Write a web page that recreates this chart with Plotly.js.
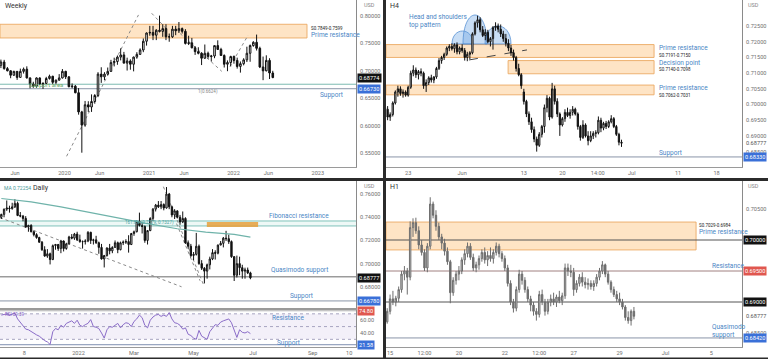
<!DOCTYPE html>
<html><head><meta charset="utf-8">
<script src="https://cdn.plot.ly/plotly-3.0.1.min.js"></script>
<style>html,body{margin:0;padding:0;background:#fff;}#chart{width:768px;height:359px;}</style>
</head><body><div id="chart"></div>
<script>
// ===== Weekly panel (two-week candles) =====
const wkOpen = [.7100,.7160,.7040,.7000,.6920,.6990,.6880,.6990,.7030,.6870,
.6760,.6720,.6870,.6760,.6770,.6860,.6900,.6790,.6830,.6870,
.6990,.6890,.6710,.6720,.6600,.6250,.6010,.6380,.6340,.6440,
.6550,.6940,.6890,.6940,.6990,.7150,.7170,.7250,.7290,.7140,
.7180,.7120,.7250,.7300,.7380,.7540,.7690,.7700,.7650,.7740,
.7720,.7770,.7620,.7620,.7760,.7730,.7770,.7720,.7500,.7510,
.7420,.7350,.7320,.7230,.7320,.7260,.7270,.7460,.7390,.7280,
.7120,.7150,.7260,.7190,.7080,.7130,.7200,.7320,.7460,.7520,
.7410,.7070,.7000,.7190,.6960];
const wkHigh = [.7205,.7200,.7070,.7010,.7000,.6995,.7040,.7060,.7082,.6880,
.6800,.6880,.6880,.6790,.6890,.6930,.6910,.6840,.6940,.7032,
.7000,.6900,.6770,.6740,.6685,.6270,.6450,.6445,.6570,.6575,
.6975,.7065,.6975,.7060,.7200,.7240,.7280,.7410,.7345,.7240,
.7210,.7260,.7340,.7410,.7590,.7700,.7820,.7820,.7760,.8007,
.7850,.7850,.7680,.7820,.7820,.7890,.7790,.7760,.7640,.7600,
.7450,.7430,.7340,.7480,.7350,.7290,.7460,.7556,.7420,.7300,
.7190,.7275,.7280,.7240,.7170,.7230,.7440,.7480,.7540,.7661,
.7440,.7260,.7283,.7230,.7000];
const wkLow = [.7050,.7020,.6990,.6865,.6905,.6835,.6870,.6950,.6860,.6680,
.6690,.6690,.6740,.6670,.6760,.6840,.6760,.6760,.6820,.6860,
.6850,.6700,.6680,.6590,.6200,.5506,.5980,.6250,.6250,.6400,
.6520,.6780,.6830,.6920,.6980,.7080,.7110,.7190,.7140,.7005,
.7020,.6990,.7220,.7290,.7340,.7460,.7640,.7560,.7560,.7700,
.7620,.7560,.7530,.7600,.7650,.7690,.7680,.7480,.7470,.7410,
.7290,.7300,.7105,.7220,.7220,.7170,.7230,.7380,.7270,.7060,
.6993,.7080,.7130,.7040,.6967,.7100,.7160,.7165,.7440,.7370,
.7050,.6829,.6990,.6850,.6865];
const wkClose = [.7160,.7040,.7000,.6920,.6990,.6880,.6990,.7030,.6870,.6760,
.6720,.6870,.6760,.6770,.6860,.6900,.6790,.6830,.6870,.6990,
.6890,.6710,.6720,.6600,.6250,.6010,.6380,.6340,.6440,.6550,
.6940,.6890,.6940,.6990,.7150,.7170,.7250,.7290,.7140,.7180,
.7120,.7250,.7300,.7380,.7540,.7690,.7700,.7650,.7740,.7720,
.7770,.7620,.7620,.7760,.7730,.7770,.7720,.7500,.7510,.7420,
.7350,.7320,.7230,.7320,.7260,.7270,.7460,.7390,.7280,.7120,
.7150,.7260,.7190,.7080,.7130,.7200,.7320,.7460,.7520,.7410,
.7070,.7000,.7190,.6960,.6877];
const wkTickVals = ["2019-06-01","2020-01-01","2020-06-01","2021-01-01","2021-06-01","2022-01-01","2022-06-01","2023-01-01"];
const wkTickText = ["Jun","2020","Jun","2021","Jun","2022","Jun","2023"];

// ===== H4 panel (8-hour candles) =====
const h4Open = [.6990,.6985,.6960,.6968,.7005,.7040,.7050,.7035,.7040,.7030,
.7055,.7100,.7110,.7095,.7105,.7100,.7060,.7070,.7085,.7078,
.7088,.7115,.7140,.7150,.7160,.7180,.7185,.7178,.7190,.7168,
.7180,.7172,.7150,.7160,.7165,.7225,.7260,.7270,.7238,.7220,
.7230,.7200,.7210,.7245,.7250,.7240,.7225,.7210,.7195,.7180,
.7165,.7150,.7115,.7095,.7040,.7010,.6970,.6945,.6920,.6890,
.6870,.6905,.6930,.6990,.7020,.6960,.7050,.7010,.6970,.6935,
.6955,.6975,.6965,.6975,.6985,.6970,.6930,.6895,.6935,.6900,
.6885,.6900,.6908,.6910,.6950,.6925,.6940,.6930,.6945,.6955,
.6930,.6905,.6880];
const h4High = [.7010,.6995,.6975,.7010,.7045,.7060,.7058,.7048,.7045,.7060,
.7108,.7125,.7118,.7110,.7115,.7105,.7080,.7090,.7095,.7090,
.7120,.7148,.7155,.7165,.7185,.7192,.7195,.7195,.7198,.7185,
.7192,.7180,.7168,.7170,.7230,.7265,.7283,.7278,.7250,.7240,
.7238,.7215,.7250,.7262,.7258,.7255,.7235,.7225,.7208,.7190,
.7175,.7155,.7130,.7100,.7050,.7015,.6978,.6958,.6930,.6898,
.6912,.6935,.7000,.7030,.7025,.7069,.7060,.7020,.6975,.6960,
.6985,.6990,.6985,.6995,.6990,.6975,.6935,.6950,.6940,.6915,
.6915,.6915,.6918,.6962,.6958,.6945,.6948,.6950,.6966,.6960,
.6935,.6910,.6888];
const h4Low = [.6975,.6950,.6948,.6962,.7000,.7025,.7028,.7022,.7025,.7025,
.7050,.7090,.7085,.7080,.7090,.7050,.7040,.7062,.7070,.7068,
.7082,.7110,.7130,.7142,.7155,.7170,.7172,.7165,.7160,.7160,
.7165,.7140,.7138,.7145,.7160,.7220,.7245,.7230,.7215,.7205,
.7195,.7185,.7175,.7235,.7230,.7215,.7200,.7185,.7170,.7155,
.7140,.7105,.7090,.7050,.7000,.6960,.6935,.6910,.6880,.6850,
.6865,.6895,.6910,.6975,.6950,.6955,.7000,.6960,.6900,.6930,
.6945,.6960,.6955,.6965,.6965,.6920,.6885,.6890,.6895,.6870,
.6880,.6890,.6895,.6905,.6912,.6918,.6922,.6925,.6940,.6925,
.6900,.6870,.6865];
const h4Close = [.6985,.6960,.6968,.7005,.7040,.7050,.7035,.7040,.7030,.7055,
.7100,.7110,.7095,.7105,.7100,.7060,.7070,.7085,.7078,.7088,
.7115,.7140,.7150,.7160,.7180,.7185,.7178,.7190,.7168,.7180,
.7172,.7150,.7160,.7165,.7225,.7260,.7270,.7238,.7220,.7230,
.7200,.7210,.7245,.7250,.7240,.7225,.7210,.7195,.7180,.7165,
.7150,.7115,.7095,.7060,.7010,.6970,.6945,.6920,.6890,.6870,
.6905,.6930,.6990,.7020,.6960,.7050,.7010,.6970,.6935,.6955,
.6975,.6965,.6975,.6985,.6970,.6930,.6895,.6935,.6900,.6885,
.6900,.6908,.6910,.6950,.6925,.6940,.6930,.6945,.6955,.6930,
.6905,.6880,.6877];
const h4TickVals = ["2022-05-23","2022-06-01","2022-06-13","2022-06-20","2022-06-24 14:00","2022-07-01","2022-07-11","2022-07-18"];
const h4TickText = ["23","Jun","13","20","14:00","Jul","11","18"];

// ===== Daily panel (two-day candles) =====
const dOpen = [.7400,.7425,.7470,.7480,.7475,.7490,.7520,.7415,.7410,.7390,
.7315,.7330,.7275,.7250,.7225,.7185,.7120,.7065,.7085,.7035,
.7155,.7165,.7130,.7195,.7130,.7170,.7230,.7220,.7255,.7205,
.7190,.7190,.7195,.7270,.7200,.7205,.7180,.7140,.7040,.7070,
.7135,.7110,.7140,.7180,.7120,.7180,.7185,.7190,.7165,.7260,
.7275,.7365,.7330,.7320,.7200,.7285,.7390,.7470,.7505,.7490,
.7510,.7480,.7600,.7490,.7420,.7455,.7400,.7360,.7390,.7180,
.7150,.7070,.7080,.7150,.7000,.6960,.6935,.6990,.7040,.7095,
.7090,.7160,.7175,.7220,.7215,.7190,.7060,.6900,.7000,.6965,
.6935,.6945,.6920];
const dHigh = [.7430,.7475,.7545,.7500,.7525,.7556,.7535,.7445,.7420,.7410,
.7335,.7340,.7285,.7262,.7232,.7195,.7150,.7125,.7095,.7165,
.7170,.7170,.7205,.7200,.7180,.7240,.7255,.7265,.7275,.7250,
.7200,.7210,.7280,.7275,.7215,.7240,.7190,.7170,.7075,.7140,
.7170,.7150,.7200,.7190,.7190,.7200,.7210,.7245,.7265,.7285,
.7370,.7440,.7350,.7330,.7290,.7400,.7480,.7515,.7540,.7540,
.7520,.7661,.7610,.7500,.7470,.7460,.7420,.7450,.7400,.7200,
.7170,.7100,.7265,.7165,.7030,.6970,.7000,.7060,.7125,.7115,
.7165,.7195,.7230,.7283,.7250,.7200,.7065,.7069,.7060,.6990,
.6965,.6966,.6930];
const dLow = [.7385,.7400,.7455,.7440,.7465,.7480,.7410,.7400,.7365,.7310,
.7275,.7270,.7235,.7215,.7180,.7110,.7060,.7050,.6993,.7030,
.7120,.7110,.7090,.7105,.7120,.7165,.7210,.7205,.7195,.7180,
.7130,.7165,.7185,.7170,.7165,.7170,.7085,.7035,.6967,.7060,
.7080,.7090,.7135,.7090,.7115,.7160,.7170,.7095,.7160,.7240,
.7270,.7320,.7260,.7180,.7165,.7280,.7370,.7450,.7480,.7470,
.7460,.7475,.7470,.7400,.7385,.7390,.7335,.7350,.7170,.7130,
.7055,.7030,.7070,.6990,.6945,.6829,.6870,.6950,.7030,.7035,
.7080,.7160,.7140,.7195,.7170,.7050,.6850,.6880,.6900,.6870,
.6870,.6910,.6865];
const dClose = [.7425,.7470,.7480,.7475,.7490,.7520,.7415,.7410,.7390,.7315,
.7330,.7275,.7250,.7225,.7185,.7120,.7065,.7085,.7035,.7155,
.7165,.7130,.7195,.7130,.7170,.7230,.7220,.7255,.7205,.7190,
.7190,.7195,.7270,.7200,.7205,.7180,.7140,.7040,.7070,.7135,
.7110,.7140,.7180,.7120,.7180,.7185,.7190,.7165,.7260,.7275,
.7365,.7330,.7320,.7200,.7285,.7390,.7470,.7505,.7490,.7510,
.7480,.7600,.7490,.7420,.7455,.7400,.7360,.7390,.7180,.7150,
.7070,.7080,.7150,.7000,.6960,.6935,.6990,.7040,.7095,.7090,
.7160,.7175,.7220,.7215,.7190,.7060,.6900,.7000,.6965,.6935,
.6945,.6920,.6877];
const dRsi = [68,69,70,68,69,71,62,57,52,46,
45,42,40,37,35,31,28,26,22,42,
47,45,52,49,55,57,59,55,60,52,
50,53,55,61,50,49,47,40,32,45,
50,49,52,55,48,53,56,55,50,58,
62,68,64,52,48,60,65,68,69,66,
68,66,72,62,56,55,52,46,48,38,
36,32,30,44,35,32,30,42,48,53,
52,57,59,60,62,56,44,33,45,41,
40,42,39];
const maDates = ["2021-10-14","2021-11-15","2021-12-15","2022-01-14","2022-02-14","2022-03-15","2022-04-14","2022-05-13","2022-06-13","2022-06-29"];
const maValues = [.7562,.7533,.7490,.7441,.7388,.7345,.7301,.7272,.7252,.7229];
const dTickVals = ["2021-11-08","2022-01-03","2022-03-01","2022-05-02","2022-07-01","2022-09-01","2022-10-10"];
const dTickText = ["8","2022","Mar","May","Jul","Sep","10"];

// ===== H1 panel (three-hour candles) =====
const h1Open = [.6860,.6868,.6885,.6905,.6900,.6906,.6920,.6945,.6950,.6940,
.7020,.7028,.7015,.6992,.6980,.6955,.6990,.7058,.7040,.7022,
.7005,.6995,.6982,.6965,.6915,.6935,.6945,.6950,.6968,.6978,
.6990,.6972,.6955,.6960,.6970,.6980,.6968,.6975,.6970,.6980,
.6990,.6978,.6970,.6955,.6930,.6900,.6890,.6920,.6945,.6935,
.6920,.6905,.6895,.6885,.6880,.6912,.6900,.6885,.6900,.6905,
.6900,.6908,.6902,.6910,.6955,.6950,.6948,.6920,.6930,.6940,
.6932,.6928,.6930,.6925,.6930,.6940,.6950,.6960,.6945,.6932,
.6920,.6912,.6905,.6900,.6892,.6875,.6870,.6885];
const h1High = [.6872,.6890,.6912,.6918,.6910,.6925,.6950,.6958,.6955,.7030,
.7035,.7036,.7022,.7000,.6985,.6995,.7069,.7062,.7048,.7028,
.7010,.7002,.6988,.6968,.6940,.6950,.6958,.6972,.6985,.6996,
.6995,.6978,.6965,.6975,.6985,.6988,.6982,.6988,.6985,.6996,
.6994,.6982,.6975,.6960,.6935,.6905,.6925,.6952,.6950,.6940,
.6925,.6910,.6900,.6890,.6918,.6920,.6905,.6905,.6912,.6915,
.6912,.6918,.6915,.6962,.6962,.6960,.6955,.6935,.6945,.6948,
.6940,.6938,.6935,.6935,.6945,.6955,.6966,.6962,.6950,.6935,
.6925,.6918,.6915,.6905,.6895,.6885,.6888,.6892];
const h1Low = [.6855,.6865,.6880,.6895,.6893,.6900,.6915,.6935,.6912,.6935,
.7005,.7010,.6985,.6975,.6950,.6948,.6985,.7035,.7015,.7000,
.6985,.6975,.6960,.6898,.6910,.6928,.6935,.6945,.6960,.6972,
.6968,.6950,.6948,.6952,.6965,.6962,.6958,.6965,.6962,.6975,
.6972,.6965,.6950,.6925,.6895,.6883,.6885,.6915,.6928,.6915,
.6900,.6885,.6878,.6870,.6875,.6895,.6878,.6880,.6893,.6895,
.6892,.6898,.6895,.6905,.6942,.6940,.6910,.6915,.6925,.6925,
.6922,.6920,.6920,.6918,.6925,.6935,.6945,.6940,.6928,.6915,
.6908,.6900,.6895,.6888,.6870,.6865,.6862,.6872];
const h1Close = [.6868,.6885,.6905,.6900,.6906,.6920,.6945,.6950,.6940,.7020,
.7028,.7015,.6992,.6980,.6955,.6990,.7058,.7040,.7022,.7005,
.6995,.6982,.6965,.6915,.6935,.6945,.6950,.6968,.6978,.6990,
.6972,.6955,.6960,.6970,.6980,.6968,.6975,.6970,.6980,.6990,
.6978,.6970,.6955,.6930,.6900,.6890,.6920,.6945,.6935,.6920,
.6905,.6895,.6885,.6880,.6912,.6900,.6885,.6900,.6905,.6900,
.6908,.6902,.6910,.6955,.6950,.6948,.6920,.6930,.6940,.6932,
.6928,.6930,.6925,.6930,.6940,.6950,.6960,.6945,.6932,.6920,
.6912,.6905,.6900,.6892,.6875,.6870,.6885,.6877];
const h1TickVals = ["2022-06-15","2022-06-16 12:00","2022-06-20","2022-06-22","2022-06-23 12:00","2022-06-27","2022-06-29","2022-07-01","2022-07-05"];
const h1TickText = ["15","12:00","20","22","12:00","27","29","Jul","5"];

// ===== time axes (trading calendar) =====
const HOUR = 3600e3, DAY = 24*HOUR;
function fmt(d){ return d.toISOString().slice(0,16).replace('T',' '); }
function stepSeries(start, stepMs, count, skipWeekend){
  const out=[]; let t = new Date(start+'Z').getTime();
  while(out.length < count){
    const d = new Date(t), wd = d.getUTCDay();
    if(!skipWeekend || (wd!==0 && wd!==6)) out.push(fmt(d));
    t += stepMs;
  }
  return out;
}
const wkDates = stepSeries('2019-04-01T00:00', 14*DAY, wkClose.length, false);
const dDates = stepSeries('2021-10-14T00:00', DAY, dClose.length*2-1, true).filter((_,i)=>i%2===0);
const h4Dates = stepSeries('2022-05-18T00:00', 8*HOUR, h4Close.length, true);
const h1Dates = stepSeries('2022-06-14T18:00', 3*HOUR, h1Close.length, true);

// ===== layout helpers =====
const W=768, H=359;
const PX = x => x/W, PY = y => 1 - y/H;
const BLUE_TXT = '#4a86c5', TAG_BLUE = '#3a70d8', TAG_RED = '#e0574f';
const FONT = 'Roboto, Open Sans, Arial, sans-serif';
const LBL = 6.5;
const LEFT_DOM = [0, 356/W], RIGHT_DOM = [386/W, 742/W];
const TOP_DOM = [1-167/H, 1];

function candle(x, o, h, l, c, xa, ya, gray){
  return {type:'candlestick', x, open:o, high:h, low:l, close:c, xaxis:xa, yaxis:ya,
    hoverinfo:'none', showlegend:false, whiskerwidth:0,
    increasing:{line:{color: gray?'#6e6e6e':'#111', width:1}, fillcolor: gray?'#c8c8c8':'#ffffff'},
    decreasing:{line:{color: gray?'#6e6e6e':'#111', width:1}, fillcolor: gray?'#6e6e6e':'#111'}};
}
const data = [
  candle(wkDates, wkOpen, wkHigh, wkLow, wkClose, 'x', 'y', false),
  candle(h4Dates, h4Open, h4High, h4Low, h4Close, 'x2', 'y2', false),
  {type:'scatter', mode:'lines', x:maDates, y:maValues, xaxis:'x3', yaxis:'y3', line:{color:'#6fb3aa', width:1.2}, hoverinfo:'none', showlegend:false},
  candle(dDates, dOpen, dHigh, dLow, dClose, 'x3', 'y3', false),
  {type:'scatter', mode:'lines', x:dDates, y:dRsi, xaxis:'x4', yaxis:'y4', line:{color:'#8a6cc8', width:1}, hoverinfo:'none', showlegend:false},
  candle(h1Dates, h1Open, h1High, h1Low, h1Close, 'x5', 'y5', true)
];

const tickFont = {size:5.6, color:'#707070', family:FONT};
function xax(domain, anchor, range, tv, tt, extra){
  return Object.assign({domain, anchor, type:'date', range, tickvals:tv, ticktext:tt, tickfont:tickFont,
    showgrid:false, zeroline:false, showline:true, linecolor:'#9a9a9a', linewidth:1, ticks:'',
    rangeslider:{visible:false}, fixedrange:true}, extra||{});
}
function yax(domain, anchor, range, tv, fmtStr){
  return {domain, anchor, side:'right', range, tickvals:tv, tickformat:fmtStr, tickfont:tickFont,
    showgrid:false, zeroline:false, showline:true, linecolor:'#8a8a8a', linewidth:1, ticks:'',
    ticklabelstandoff:2, fixedrange:true};
}
const wkBreaks = [{bounds:['sat','mon']}];

const layout = {
  width:W, height:H, margin:{l:0,r:0,t:0,b:0}, paper_bgcolor:'#fff', plot_bgcolor:'#fff',
  showlegend:false, font:{family:FONT},
  xaxis: xax(LEFT_DOM, 'y', ['2019-03-28','2023-06-15'], wkTickVals, wkTickText),
  yaxis: yax(TOP_DOM, 'x', [0.5245, 0.8292], [0.55,0.60,0.65,0.70,0.75,0.80], '.5f'),
  xaxis2: xax(RIGHT_DOM, 'y2', ['2022-05-18 03:00','2022-07-21 07:00'], h4TickVals, h4TickText, {rangebreaks:wkBreaks}),
  yaxis2: yax(TOP_DOM, 'x2', [0.6801, 0.7333], [0.685,0.69,0.695,0.70,0.705,0.71,0.715,0.72,0.725], '.5f'),
  xaxis3: xax(LEFT_DOM, 'y3', ['2021-10-13','2022-10-17'], dTickVals, dTickText, {rangebreaks:wkBreaks, showticklabels:false}),
  yaxis3: yax([1-308/H, 1-181/H], 'x3', [0.6617, 0.7713], [0.68,0.70,0.72,0.74,0.76], '.5f'),
  xaxis4: xax(LEFT_DOM, 'y4', ['2021-10-13','2022-10-17'], dTickVals, dTickText, {rangebreaks:wkBreaks, mirror:true}),
  yaxis4: yax([1-347/H, 1-310/H], 'x4', [18, 76], [40,60], '.2f'),
  xaxis5: xax(RIGHT_DOM, 'y5', ['2022-06-14 19:45','2022-07-06 08:00'], h1TickVals, h1TickText, {rangebreaks:wkBreaks}),
  yaxis5: yax([1-347/H, 1-181/H], 'x5', [0.68274, 0.70952], [0.685,0.705], '.5f'),
  shapes: [], annotations: []
};

const S = layout.shapes, A = layout.annotations;
function zone(xr, yr, x0, x1, y0, y1, fill, line){
  S.push({type:'rect', xref:xr, yref:yr, x0, x1, y0, y1, fillcolor:fill, line:{color:line||'rgba(0,0,0,0)', width:line?1:0}, layer:'below'});
}
function hline(xr, yr, y, color, dash, x0, x1){
  S.push({type:'line', xref:xr, yref:yr, x0:x0===undefined?0:x0, x1:x1===undefined?1:x1, y0:y, y1:y, line:{color, width:1, dash:dash||'solid'}, layer:'below'});
}
function seg(xr, yr, x0, y0, x1, y1, color, dash){
  S.push({type:'line', xref:xr, yref:yr, x0, y0, x1, y1, line:{color, width:1, dash:dash||'dot'}, layer:'below'});
}
function txt(px, py, text, size, color, extra){
  A.push(Object.assign({xref:'paper', yref:'paper', x:PX(px), y:PY(py), xanchor:'left', yanchor:'middle', text, showarrow:false,
    font:{size, color, family:FONT}, align:'left'}, extra||{}));
}
function tag(px, yref, y, text, bg, fg){
  A.push({xref:'paper', yref, x:PX(px), y, xanchor:'left', yanchor:'middle', text, showarrow:false,
    bgcolor:bg, borderpad:1, font:{size:5.6, color:fg||'#fff', family:FONT}});
}
const ZONE_FILL = 'rgba(253,205,150,0.55)', ZONE_LINE = 'rgba(235,170,100,0.9)';

// ---- Weekly drawings ----
zone('x domain','y', 0, 307/356, 0.7599, 0.7849, ZONE_FILL, ZONE_LINE);
hline('x domain','y', 0.6755, 'rgba(110,180,170,0.9)');
hline('x domain','y', 0.6673, '#8a95a8');
seg('x domain','y', 0.187, 0.544, 0.389, 0.802, '#8a8a8a');
seg('x domain','y', 0.426, 0.805, 0.470, 0.775, '#8a8a8a');
seg('x domain','y', 0.506, 0.768, 0.623, 0.699, '#8a8a8a');
seg('x domain','y', 0.646, 0.708, 0.697, 0.765, '#8a8a8a');
txt(3, 6, 'Weekly', 7, '#333');
txt(362, 5, 'USD', 5.5, '#888');
txt(309, 28, 'S0.7849-0.7599', 4.5, '#222');
txt(309, 35, 'Prime resistance', LBL, BLUE_TXT);
txt(318, 95, 'Support', LBL, BLUE_TXT);
txt(27, 84, 'Support area', 6, '#6aa86a');
txt(196, 91.5, '1(0.6624)', 4.5, '#888');
tag(357, 'y', 0.68774, '0.68774', '#111');
tag(357, 'y', 0.66730, '0.66730', TAG_BLUE);

// ---- H4 drawings ----
zone('x2 domain','y2', 0, 0.753, 0.7150, 0.7191, ZONE_FILL, ZONE_LINE);
zone('x2 domain','y2', 0.343, 0.753, 0.7098, 0.7140, ZONE_FILL, ZONE_LINE);
zone('x2 domain','y2', 0, 0.753, 0.7031, 0.7062, ZONE_FILL, ZONE_LINE);
hline('x2 domain','y2', 0.6833, '#8a95a8');
seg('x2 domain','y2', 0.233, 0.7142, 0.396, 0.7174, '#444', 'dash');
function dome(x0, x1, top){
  const yb = PY(44), yt = PY(top), h = yb + (yt-yb)/0.75;
  S.push({type:'path', xref:'paper', yref:'paper',
    path:`M ${PX(x0)},${yb} C ${PX(x0)},${h} ${PX(x1)},${h} ${PX(x1)},${yb} Z`,
    fillcolor:'rgba(100,160,225,0.35)', line:{color:'rgba(80,140,210,0.75)', width:1}, layer:'below'});
}
dome(452, 473, 31); dome(463, 487, 15); dome(485, 511, 26);
txt(388, 6, 'H4', 7, '#333');
txt(746, 5, 'USD', 5.5, '#888');
txt(407, 21.5, 'Head and shoulders<br>top pattern', LBL, BLUE_TXT);
txt(657, 48, 'Prime resistance', LBL, BLUE_TXT);
txt(657, 55, 'S0.7191-0.7150', 4.5, '#222');
txt(657, 63, 'Decision point', LBL, BLUE_TXT);
txt(657, 70, 'S0.7140-0.7098', 4.5, '#222');
txt(657, 88, 'Prime resistance', LBL, BLUE_TXT);
txt(657, 95, 'S0.7062-0.7031', 4.5, '#222');
txt(657, 153, 'Support', LBL, BLUE_TXT);
A.push({xref:'paper', yref:'y2', x:PX(744), y:0.68777, xanchor:'left', yanchor:'middle', text:'0.68777', showarrow:false, font:{size:5.6, color:'#555', family:FONT}});
tag(743, 'y2', 0.6833, '0.68330', TAG_BLUE);

// ---- Daily drawings ----
zone('x3 domain','y3', 0, 1, 0.7325, 0.7368, 'rgba(140,210,195,0.15)');
hline('x3 domain','y3', 0.7368, 'rgba(100,180,170,0.8)');
hline('x3 domain','y3', 0.7325, 'rgba(100,180,170,0.8)');
zone('x3 domain','y3', 0.581, 0.725, 0.7316, 0.7359, 'rgba(230,160,60,0.85)');
hline('x3 domain','y3', 0.6886, '#6a6a6a');
hline('x3 domain','y3', 0.6678, '#8a95a8');
seg('x3 domain','y3', 0.0, 0.7397, 0.510, 0.6800, '#8a8a8a');
seg('x3 domain','y3', 0.459, 0.7664, 0.571, 0.6823, '#8a8a8a');
seg('x3 domain','y3', 0.496, 0.7345, 0.562, 0.6852, '#8a8a8a');
txt(2, 188, 'MA 0.72254', 5, '#4a9a9a');
txt(31, 188, 'Daily', 7, '#333');
txt(362, 186, 'USD', 5.5, '#888');
txt(267, 216, 'Fibonacci resistance', LBL, BLUE_TXT);
txt(123, 222.5, '161.8% (0.7379, 0.7327)', 4.5, '#4aa0a0');
txt(269, 270, 'Quasimodo support', LBL, BLUE_TXT);
txt(288, 296, 'Support', LBL, BLUE_TXT);
tag(357, 'y3', 0.68777, '0.68777', '#111');
tag(357, 'y3', 0.66780, '0.66780', TAG_BLUE);
// RSI pane
zone('x4 domain','y4', 0, 1, 30, 70, 'rgba(126,87,194,0.09)');
hline('x4 domain','y4', 70, '#a8a4c0', 'dot');
hline('x4 domain','y4', 50, '#a8a4c0', 'dot');
hline('x4 domain','y4', 30, '#a8a4c0', 'dot');
hline('x4 domain','y4', 74.8, '#b0b0b0');
hline('x4 domain','y4', 21.58, '#7e8fb0');
txt(3, 314, 'RSI 39.39', 4.5, '#7e57c2');
txt(270, 318, 'Resistance', LBL, BLUE_TXT);
txt(275, 343, 'Support', LBL, BLUE_TXT);
tag(357, 'y4', 74.8, '74.80', TAG_RED);
tag(357, 'y4', 21.58, '21.58', TAG_BLUE);

// ---- H1 drawings ----
zone('x5 domain','y5', 0, 0.871, 0.6984, 0.7029, ZONE_FILL, ZONE_LINE);
hline('x5 domain','y5', 0.700, '#555');
hline('x5 domain','y5', 0.695, '#a08080');
hline('x5 domain','y5', 0.690, '#555');
hline('x5 domain','y5', 0.6842, '#8a95a8');
txt(388, 187, 'H1', 7, '#333');
txt(746, 186, 'USD', 5.5, '#888');
txt(697, 225, 'S0.7029-0.6984', 4.5, '#222');
txt(697, 232, 'Prime resistance', LBL, BLUE_TXT);
txt(710, 265.5, 'Resistance', LBL, BLUE_TXT);
txt(710, 331, 'Quasimodo<br>support', LBL, BLUE_TXT);
A.push({xref:'paper', yref:'y5', x:PX(744), y:0.68777, xanchor:'left', yanchor:'middle', text:'0.68777', showarrow:false, font:{size:5.6, color:'#555', family:FONT}});
tag(743, 'y5', 0.700, '0.70000', '#111');
tag(743, 'y5', 0.695, '0.69500', TAG_RED);
tag(743, 'y5', 0.690, '0.69000', '#111');
tag(743, 'y5', 0.6842, '0.68420', TAG_BLUE);

// ---- panel separators ----
S.push({type:'rect', xref:'paper', yref:'paper', x0:PX(383), x1:PX(386), y0:0, y1:1, fillcolor:'#2b2b2b', line:{width:0}, layer:'above'});
S.push({type:'rect', xref:'paper', yref:'paper', x0:0, x1:1, y0:PY(181), y1:PY(178), fillcolor:'#2b2b2b', line:{width:0}, layer:'above'});
S.push({type:'rect', xref:'paper', yref:'paper', x0:0, x1:1, y0:0, y1:PY(357.5), fillcolor:'#2b2b2b', line:{width:0}, layer:'above'});

Plotly.newPlot('chart', data, layout, {staticPlot:true, displayModeBar:false});
</script>
</body></html>
